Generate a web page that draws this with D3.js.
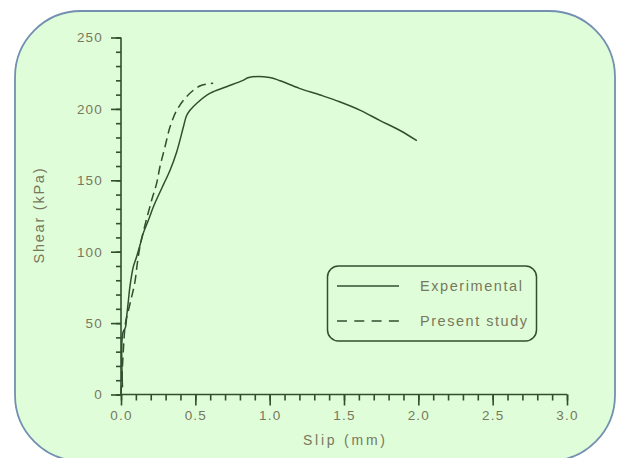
<!DOCTYPE html>
<html>
<head>
<meta charset="utf-8">
<script src="https://cdn.jsdelivr.net/npm/d3@7"></script>
<style>
  html, body { margin: 0; padding: 0; background: #ffffff; }
  svg { display: block; }
  text { font-family: "Liberation Sans", Arial, sans-serif; }
</style>
</head>
<body>
<svg id="chart" width="618" height="458"></svg>
<script>
// ---- Data ----
const experimentalSlip  = [0.01, 0.012, 0.03, 0.038, 0.05, 0.06, 0.083, 0.105, 0.128, 0.15, 0.184, 0.218, 0.25, 0.29, 0.33, 0.375, 0.42, 0.44, 0.464, 0.51, 0.6, 0.71, 0.82, 0.86, 1.0, 1.07, 1.2, 1.34, 1.47, 1.61, 1.74, 1.88, 1.99];
const experimentalShear = [5, 43, 47, 54.5, 66, 75.5, 89.5, 96.5, 104.7, 113, 122, 131.5, 139, 148, 157, 170, 187.5, 195, 199, 204, 211, 215.5, 220, 222, 222, 219.7, 214.4, 209.7, 205, 199, 192, 184.7, 177.7];
const presentSlip  = [0.0, 0.01, 0.02, 0.03, 0.05, 0.072, 0.094, 0.11, 0.13, 0.16, 0.206, 0.24, 0.262, 0.296, 0.33, 0.375, 0.44, 0.53, 0.62];
const presentShear = [0, 20, 38, 50, 59, 68.5, 79, 92, 105, 118, 136, 148, 159.5, 173.5, 187.5, 199, 208.5, 216, 218];
const xTickValues = [0, 0.5, 1.0, 1.5, 2.0, 2.5, 3.0];
const yTickValues = [0, 50, 100, 150, 200, 250];
const seriesNames = ["Experimental", "Present study"];
const xTitle = "Slip  (mm)";
const yTitle = "Shear (kPa)";

// ---- Styles ----
const ink = "#2f4f2f";
const labelColor = "#78785c";

const svg = d3.select("#chart");

// Background panel
svg.append("rect")
  .attr("x", 15).attr("y", 11)
  .attr("width", 600).attr("height", 450)
  .attr("rx", 66).attr("ry", 66)
  .attr("fill", "#e0fdd9")
  .attr("stroke", "#7290b0")
  .attr("stroke-width", 1.8);

const x = d3.scaleLinear().domain([0, 3]).range([121, 567]);
const y = d3.scaleLinear().domain([0, 250]).range([394.5, 37.5]);

// Minor ticks
const xMinor = d3.range(0, 3.0001, 0.1);
const yMinor = d3.range(0, 250.001, 10);

const xAxisMinor = d3.axisBottom(x).tickValues(xMinor).tickSize(6).tickFormat("");
const xAxisMajor = d3.axisBottom(x).tickValues(xTickValues).tickSize(11).tickPadding(5)
  .tickFormat(d3.format(".1f"));
const yAxisMinor = d3.axisLeft(y).tickValues(yMinor).tickSize(5).tickFormat("");
const yAxisMajor = d3.axisLeft(y).tickValues(yTickValues).tickSize(10).tickPadding(8)
  .tickFormat(d3.format("d"));

function styleAxis(g) {
  g.select(".domain").attr("stroke", ink).attr("stroke-width", 1.6);
  g.selectAll(".tick line").attr("stroke", ink).attr("stroke-width", 1.6);
  g.selectAll(".tick text").attr("fill", labelColor)
    .style("font-size", "13.5px").style("letter-spacing", "1.2px");
}

const gxm = svg.append("g").attr("transform", `translate(0,${y(0)})`).call(xAxisMinor);
gxm.select(".domain").remove();
gxm.selectAll(".tick line").attr("stroke", ink).attr("stroke-width", 1.6);
const gx = svg.append("g").attr("transform", `translate(0,${y(0)})`).call(xAxisMajor);
styleAxis(gx);
gx.select(".domain").attr("d", `M${x(0)},0H${x(3)}`);

const gym = svg.append("g").attr("transform", `translate(${x(0)},0)`).call(yAxisMinor);
gym.select(".domain").remove();
gym.selectAll(".tick line").attr("stroke", ink).attr("stroke-width", 1.6);
const gy = svg.append("g").attr("transform", `translate(${x(0)},0)`).call(yAxisMajor);
styleAxis(gy);
gy.select(".domain").attr("d", `M0,${y(0)}V${y(250)}`);

// Axis titles
svg.append("text")
  .attr("x", x(1.5)).attr("y", 445)
  .attr("text-anchor", "middle")
  .attr("fill", labelColor)
  .style("font-size", "14px")
  .attr("textLength", 82).attr("lengthAdjust", "spacing")
  .text(xTitle);

svg.append("text")
  .attr("transform", `translate(44,${(y(0) + y(250)) / 2}) rotate(-90)`)
  .attr("text-anchor", "middle")
  .attr("fill", labelColor)
  .style("font-size", "14.5px")
  .attr("textLength", 95).attr("lengthAdjust", "spacing")
  .text(yTitle);

// Lines
const line = d3.line().x(d => x(d[0])).y(d => y(d[1])).curve(d3.curveCatmullRom.alpha(0.5));
const expData = experimentalSlip.map((s, i) => [s, experimentalShear[i]]);
const preData = presentSlip.map((s, i) => [s, presentShear[i]]);

svg.append("path").datum(expData)
  .attr("d", line).attr("fill", "none")
  .attr("stroke", ink).attr("stroke-width", 1.5);

svg.append("path").datum(preData)
  .attr("d", line).attr("fill", "none")
  .attr("stroke", ink).attr("stroke-width", 1.5)
  .attr("stroke-dasharray", "9,5");

// Legend
const legend = svg.append("g");
legend.append("rect")
  .attr("x", 327.5).attr("y", 266)
  .attr("width", 209).attr("height", 75)
  .attr("rx", 11).attr("ry", 11)
  .attr("fill", "none").attr("stroke", ink).attr("stroke-width", 1.5);

const legY = [286, 321];
const legWidths = [102, 107];
seriesNames.forEach((name, i) => {
  legend.append("line")
    .attr("x1", 337).attr("x2", 399)
    .attr("y1", legY[i]).attr("y2", legY[i])
    .attr("stroke", ink).attr("stroke-width", 1.5)
    .attr("stroke-dasharray", i === 1 ? "10,7.3" : null);
  legend.append("text")
    .attr("x", 420).attr("y", legY[i] + 5)
    .attr("fill", labelColor)
    .style("font-size", "14.5px")
    .attr("textLength", legWidths[i]).attr("lengthAdjust", "spacing")
    .text(name);
});
</script>
</body>
</html>
